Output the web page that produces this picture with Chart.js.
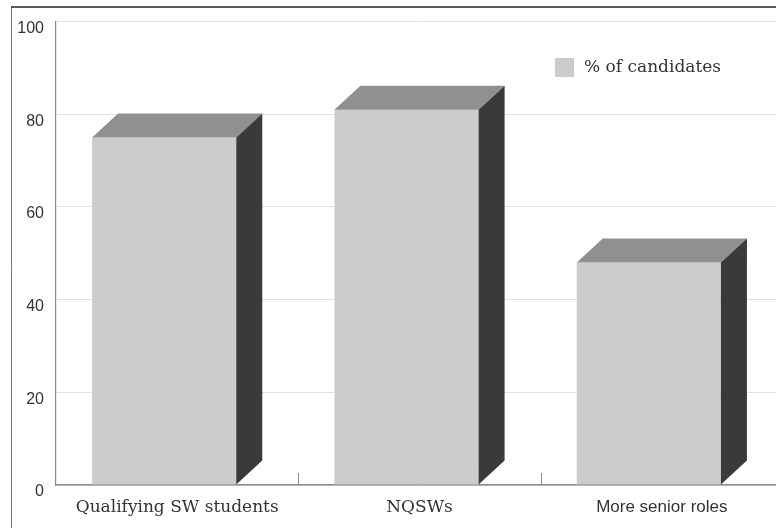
<!DOCTYPE html>
<html>
<head>
<meta charset="utf-8">
<script src="https://cdn.jsdelivr.net/npm/chart.js@4/dist/chart.umd.min.js"></script>
<style>
  html, body { margin: 0; padding: 0; background: #fff; overflow: hidden; }
  #wrap { width: 776px; height: 528px; overflow: hidden; }
</style>
</head>
<body>
<div id="wrap"><canvas id="chart" width="784" height="528" style="width:784px;height:528px;display:block"></canvas></div>
<script>
// data
const categories = ["Qualifying SW students", "NQSWs", "More senior roles"];
const candidates = [75, 81, 48];
const yTicks = [0, 20, 40, 60, 80, 100];

const FRONT = "#cbcccd", TOP = "#8f9092", SIDE = "#3a3a3a";
const DEPTH_X = 26, DEPTH_Y = 24;

// frame lines round the figure
const framePlugin = {
    id: "frame",
    beforeDraw(chart) {
        const ctx = chart.ctx;
        ctx.save();
        ctx.strokeStyle = "#777";
        ctx.lineWidth = 1;
        ctx.beginPath();
        ctx.moveTo(11.5, 7);
        ctx.lineTo(11.5, 528);
        ctx.stroke();
        ctx.strokeStyle = "#222";
        ctx.lineWidth = 1.6;
        ctx.beginPath();
        ctx.moveTo(11, 7);
        ctx.lineTo(784, 7);
        ctx.stroke();
        ctx.restore();
    }
};

// boxes instead of flat bars
const boxPlugin = {
    id: "boxes",
    beforeDatasetDraw() {
        return false;
    },
    afterDatasetsDraw(chart) {
        const ctx = chart.ctx;
        const meta = chart.getDatasetMeta(0);
        ctx.save();
        meta.data.forEach(function (bar) {
            const p = bar.getProps(["x", "y", "base", "width"], true);
            const left = p.x - p.width / 2 - DEPTH_X / 2;
            const right = left + p.width;
            const top = p.y, base = p.base;

            ctx.fillStyle = FRONT;
            ctx.fillRect(left, top, p.width, base - top);

            ctx.fillStyle = TOP;
            ctx.beginPath();
            ctx.moveTo(left, top);
            ctx.lineTo(left + DEPTH_X, top - DEPTH_Y);
            ctx.lineTo(right + DEPTH_X, top - DEPTH_Y);
            ctx.lineTo(right, top);
            ctx.closePath();
            ctx.fill();

            ctx.fillStyle = SIDE;
            ctx.beginPath();
            ctx.moveTo(right, top);
            ctx.lineTo(right + DEPTH_X, top - DEPTH_Y);
            ctx.lineTo(right + DEPTH_X, base - DEPTH_Y);
            ctx.lineTo(right, base);
            ctx.closePath();
            ctx.fill();
        });

        // small ticks between categories, pointing up from the baseline
        const xs = chart.scales.x;
        const yBase = chart.chartArea.bottom;
        ctx.strokeStyle = "#888";
        ctx.lineWidth = 1;
        for (let i = 0; i < categories.length - 1; i++) {
            const bx = Math.round((xs.getPixelForValue(i) + xs.getPixelForValue(i + 1)) / 2) + 0.5;
            ctx.beginPath();
            ctx.moveTo(bx, yBase - 12);
            ctx.lineTo(bx, yBase);
            ctx.stroke();
        }

        // legend
        const ds = chart.data.datasets[0];
        ctx.fillStyle = ds.backgroundColor;
        ctx.fillRect(555, 58, 19, 19);
        ctx.fillStyle = "#333";
        ctx.font = "17px 'DejaVu Serif'";
        ctx.textBaseline = "middle";
        ctx.textAlign = "left";
        ctx.fillText(ds.label, 584, 68);
        ctx.restore();
    }
};

new Chart(document.getElementById("chart").getContext("2d"), {
    type: "bar",
    data: {
        labels: categories,
        datasets: [{
            label: "% of candidates",
            data: candidates,
            backgroundColor: FRONT,
            barPercentage: 1,
            categoryPercentage: 0.595
        }]
    },
    options: {
        responsive: false,
        animation: false,
        layout: { padding: { top: 20, right: 1, left: 0, bottom: 0 } },
        plugins: { legend: { display: false }, tooltip: { enabled: false } },
        scales: {
            x: {
                afterFit(scale) { scale.height = 43; },
                grid: { display: false },
                border: { display: true, color: "#8a8a8a", width: 1.5 },
                ticks: {
                    color: "#333",
                    padding: 4,
                    maxRotation: 0,
                    font: function (c) {
                        return c.index === 2
                            ? { family: "'Liberation Sans'", size: 17 }
                            : { family: "'DejaVu Serif'", size: 17 };
                    }
                }
            },
            y: {
                min: 0,
                max: 100,
                afterFit(scale) { scale.width = 56; },
                afterBuildTicks(scale) { scale.ticks = yTicks.map(v => ({ value: v })); },
                grid: { color: "#e0e0e0", lineWidth: 1, drawTicks: false },
                border: { display: true, color: "#8a8a8a", width: 1.2 },
                ticks: {
                    color: "#333",
                    padding: 12,
                    labelOffset: 7,
                    font: { family: "'Liberation Sans'", size: 16 }
                }
            }
        }
    },
    plugins: [framePlugin, boxPlugin]
});
</script>
</body>
</html>
